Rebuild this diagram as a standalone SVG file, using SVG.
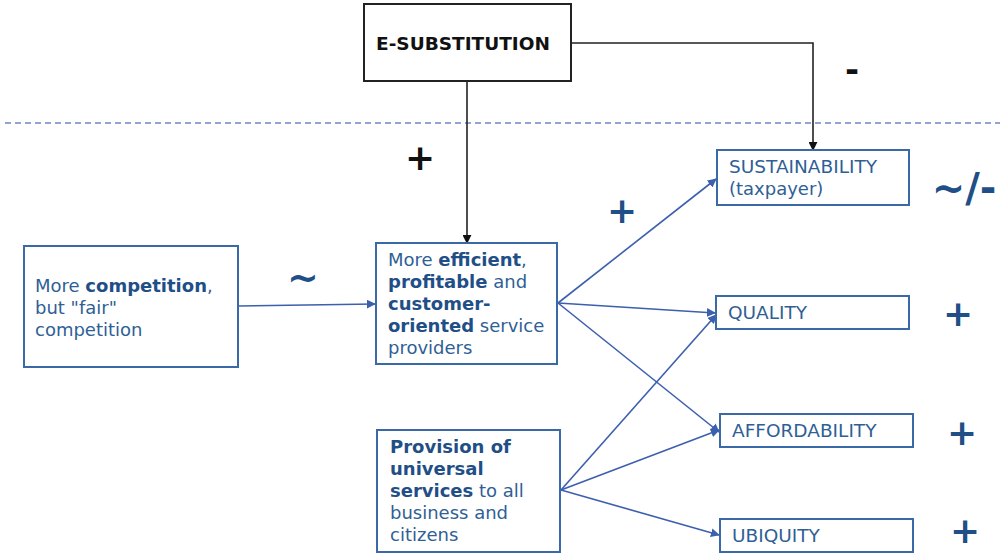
<svg xmlns="http://www.w3.org/2000/svg" width="1000" height="559" viewBox="0 0 1000 559">
  <defs>
    <marker id="arrB" viewBox="0 0 10 10" refX="9" refY="5" markerWidth="9" markerHeight="9" markerUnits="userSpaceOnUse" orient="auto">
      <path d="M0,0 L10,5 L0,10 z" fill="#3c5fae"/>
    </marker>
    <marker id="arrK" viewBox="0 0 10 10" refX="9" refY="5" markerWidth="9" markerHeight="9" markerUnits="userSpaceOnUse" orient="auto">
      <path d="M0,0 L10,5 L0,10 z" fill="#111"/>
    </marker>
  </defs>
  <style>
    .box { fill: #fff; stroke: #3a69a8; stroke-width: 2; }
    .kbox { fill: #fff; stroke: #222; stroke-width: 2; }
    .t { font-family: "DejaVu Sans", Verdana, sans-serif; font-size: 18px; fill: #2f5f96; }
    .c { font-size: 18.5px; }
    .b { font-weight: bold; fill: #1f4f86; }
    .sign { font-family: "DejaVu Sans", Verdana, sans-serif; font-weight: bold; fill: #1f4f86; text-anchor: middle; }
    .ksign { font-family: "DejaVu Sans", Verdana, sans-serif; font-weight: bold; fill: #111; text-anchor: middle; }
    .blue { fill: none; stroke: #3c5fae; stroke-width: 1.6; marker-end: url(#arrB); }
    .black { fill: none; stroke: #222; stroke-width: 1.6; marker-end: url(#arrK); }
  </style>

  <rect width="1000" height="559" fill="#fff"/>

  <!-- boundary line -->
  <line x1="5" y1="123" x2="1000" y2="123" stroke="#7085c8" stroke-width="1.6" stroke-dasharray="6,4"/>

  <g id="connectors">
    <polyline class="black" points="571,43 813,43 813,150"/>
    <line class="black" x1="467" y1="81" x2="467" y2="243"/>
    <line class="blue" x1="238" y1="306" x2="375" y2="304"/>
    <line class="blue" x1="558" y1="303" x2="716" y2="179"/>
    <line class="blue" x1="558" y1="303" x2="715" y2="313"/>
    <line class="blue" x1="558" y1="303" x2="719" y2="432"/>
    <line class="blue" x1="561" y1="490" x2="716" y2="315"/>
    <line class="blue" x1="561" y1="490" x2="719" y2="430"/>
    <line class="blue" x1="561" y1="490" x2="719" y2="535"/>
  </g>

  <g id="e-substitution">
    <rect class="kbox" x="364" y="4" width="207" height="77"/>
    <text x="463" y="50" text-anchor="middle" font-family="DejaVu Sans, Verdana, sans-serif" font-size="18.5" font-weight="bold" fill="#111">E-SUBSTITUTION</text>
  </g>

  <g id="competition">
    <rect class="box" x="24" y="246" width="214" height="121"/>
    <text class="t" x="35" y="292">More <tspan class="b">competition</tspan>,</text>
    <text class="t" x="35" y="314">but "fair"</text>
    <text class="t" x="35" y="336">competition</text>
  </g>

  <g id="providers">
    <rect class="box" x="376" y="243" width="181" height="121"/>
    <text class="t" x="388" y="266">More <tspan class="b">efficient</tspan>,</text>
    <text class="t" x="388" y="288"><tspan class="b">profitable</tspan> and</text>
    <text class="t" x="388" y="310"><tspan class="b">customer-</tspan></text>
    <text class="t" x="388" y="332"><tspan class="b">oriented</tspan> service</text>
    <text class="t" x="388" y="354">providers</text>
  </g>

  <g id="universal">
    <rect class="box" x="377" y="430" width="183" height="122"/>
    <text class="t" x="390" y="453"><tspan class="b">Provision of</tspan></text>
    <text class="t" x="390" y="475"><tspan class="b">universal</tspan></text>
    <text class="t" x="390" y="497"><tspan class="b">services</tspan> to all</text>
    <text class="t" x="390" y="519">business and</text>
    <text class="t" x="390" y="541">citizens</text>
  </g>

  <g id="sustainability">
    <rect class="box" x="717" y="150" width="192" height="55"/>
    <text class="t c" x="729" y="173">SUSTAINABILITY</text>
    <text class="t" x="729" y="195">(taxpayer)</text>
  </g>

  <g id="quality">
    <rect class="box" x="716" y="296" width="193" height="33"/>
    <text class="t c" x="728" y="319">QUALITY</text>
  </g>

  <g id="affordability">
    <rect class="box" x="720" y="414" width="193" height="33"/>
    <text class="t c" x="732" y="437">AFFORDABILITY</text>
  </g>

  <g id="ubiquity">
    <rect class="box" x="720" y="519" width="193" height="33"/>
    <text class="t c" x="732" y="542">UBIQUITY</text>
  </g>

  <!-- effect signs -->
  <text class="ksign" x="852" y="81" font-size="34">-</text>
  <text class="ksign" x="420" y="170" font-size="36">+</text>
  <text class="sign" x="303" y="290" font-size="38">~</text>
  <text class="sign" x="622" y="223" font-size="36">+</text>
  <text class="sign" x="958" y="326" font-size="36">+</text>
  <text class="sign" x="962" y="445" font-size="36">+</text>
  <text class="sign" x="965" y="543" font-size="36">+</text>
  <text class="sign" x="964" y="202" font-size="40">~/-</text>
</svg>
